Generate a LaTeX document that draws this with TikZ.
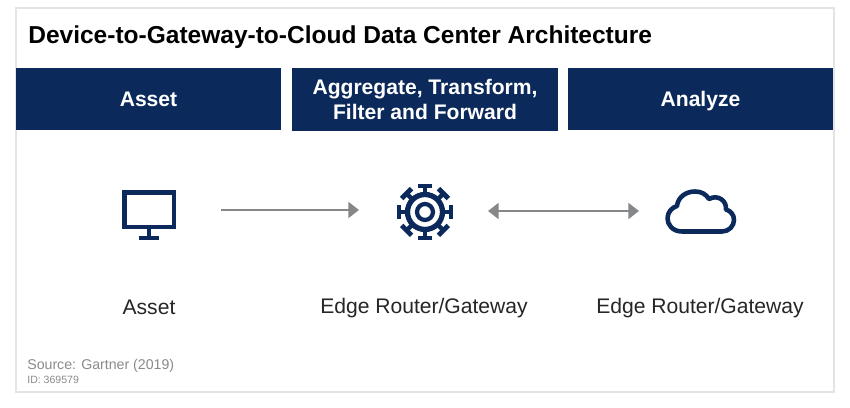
\documentclass[tikz,border=0pt]{standalone}
\usepackage{fontspec}
\setmainfont{Liberation Sans}
\usetikzlibrary{arrows.meta}
\definecolor{navy}{HTML}{0B2A5B}
\definecolor{arrowgray}{HTML}{858789}
\definecolor{framegray}{HTML}{E4E4E4}
\definecolor{notegray}{HTML}{8A8A8A}
\tikzset{
  header/.style={fill=navy, text=white, font=\fontsize{12}{14.5}\selectfont\bfseries, align=center, inner sep=0pt, minimum height=35.4pt, minimum width=151pt},
  oneline/.style={text height=8pt, text depth=0pt},
  caption/.style={text=black!85, font=\fontsize{12}{14}\selectfont, inner sep=0pt},
  icon/.style={navy, line width=2.3pt},
  flow/.style={arrowgray, line width=1.1pt, -{Triangle[length=6pt,width=9pt]}},
  flowboth/.style={arrowgray, line width=1.1pt, {Triangle[length=6pt,width=9pt]}-{Triangle[length=6pt,width=9pt]}}
}
\begin{document}
\begin{tikzpicture}[x=0.02cm, y=-0.02cm]
    \useasboundingbox (0,0) rectangle (850,408);
    \fill[white] (0,0) rectangle (850,408);

    % Ramec
    \draw[framegray, line width=0.6pt] (16,8) rectangle (834,392);

    % Nadpis
    \node[anchor=west, inner sep=0pt, font=\fontsize{13.95}{16}\selectfont\bfseries] (title) at (28,37.5) {Device-to-Gateway-to-Cloud Data Center Architecture};

    % Hlavicky
    \node[header, oneline] (assethead) at (148.5,99) {Asset};
    \node[header] (gatewayhead) at (425,99.5) {Aggregate, Transform,\\Filter and Forward};
    \node[header, oneline] (analyzehead) at (700.5,99) {Analyze};

    % Monitor
    \draw[icon] (124.5,192.5) rectangle (174,227);
    \draw[icon, line width=2pt] (149,227) -- (149,238);
    \draw[icon, line width=2.5pt] (139,238) -- (159,238);

    % Ozubene kolo
    \draw[icon, line width=3pt] (425,212) circle (17.5);
    \draw[icon, line width=2.4pt] (425,212) circle (8);
    \foreach \a in {0,45,...,315} {
        \draw[icon, line width=2.6pt, rotate around={\a:(425,212)}] (442,212) -- (451,212);
        \draw[icon, line width=2.8pt, rotate around={\a:(425,212)}] (451,205) -- (451,219);
    }

    % Oblak
    \draw[icon, line width=2.6pt, line join=round] (682,231.5)
        .. controls (672,231.5) and (667.5,224) .. (667.5,218.5)
        .. controls (667.5,212) and (672,207.5) .. (677,206)
        .. controls (678,197) and (686,191.5) .. (695,191.5)
        .. controls (701,191.5) and (706,194) .. (709,199)
        .. controls (718,194) and (727,201) .. (726,209.5)
        .. controls (731,211) and (734,215) .. (734,220)
        .. controls (734,226) and (729,231.5) .. (722,231.5)
        -- cycle;

    % Sipky
    \coordinate (assetout) at (221,210);
    \coordinate (gatewayin) at (359,210);
    \coordinate (gatewayout) at (488,211);
    \coordinate (cloudin) at (639,211);
    \draw[flow] (assetout) -- (gatewayin);
    \draw[flowboth] (gatewayout) -- (cloudin);

    % Popisky
    \node[caption] (assetlabel) at (149,307.5) {Asset};
    \node[caption] (gatewaylabel) at (424,308.5) {Edge Router/Gateway};
    \node[caption] (cloudlabel) at (700,308.5) {Edge Router/Gateway};

    % Zdroj
    \node[anchor=west, inner sep=0pt, text=notegray, font=\fontsize{8.05}{9}\selectfont] (source) at (27,366) {Source: Gartner (2019)};
    \node[anchor=west, inner sep=0pt, text=notegray, font=\fontsize{6}{7}\selectfont] (docid) at (27,380) {ID: 369579};
\end{tikzpicture}
\end{document}
